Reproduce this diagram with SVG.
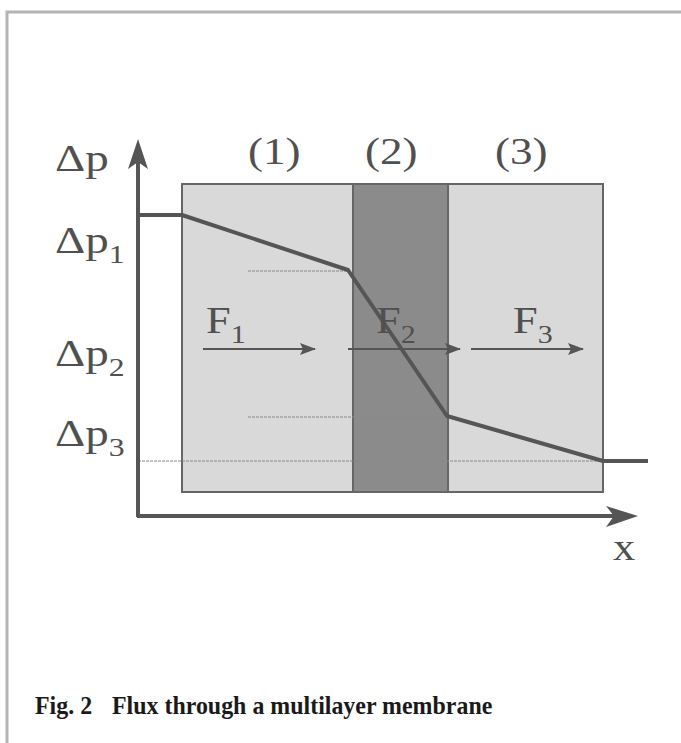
<svg xmlns="http://www.w3.org/2000/svg" width="681" height="743" viewBox="0 0 681 743">
<style>
.lbl{font-family:"Liberation Serif","Times New Roman",serif;fill:#505050;}
.big{font-size:37px;}
.sub{font-size:25px;}
.cap{font-family:"Liberation Serif","Times New Roman",serif;font-weight:bold;font-size:26px;fill:#1a1a1a;}
.layer{stroke:#666;stroke-width:2;}
.dot{stroke:#888;stroke-width:1;stroke-dasharray:3 1;fill:none;}
.flux{stroke:#555;stroke-width:2;fill:none;}
</style>
<defs>
<marker id="fa" viewBox="0 0 16 12" refX="15" refY="6" markerWidth="16" markerHeight="12" markerUnits="userSpaceOnUse" orient="auto">
<path d="M0,0 L16,6 L0,12 L3,6 Z" fill="#555"/>
</marker>
</defs>
<rect x="0" y="0" width="681" height="743" fill="#fff"/>
<g id="frame" fill="none" stroke="#b4b4b4" stroke-width="3">
<path d="M7,743 L7,12 L681,12"/>
</g>
<g id="layer1"><rect class="layer" x="182" y="184" width="171" height="308" fill="#d9d9d9"/></g>
<g id="layer2"><rect class="layer" x="353" y="184" width="95" height="308" fill="#8b8b8b"/></g>
<g id="layer3"><rect class="layer" x="448" y="184" width="155" height="308" fill="#d9d9d9"/></g>
<g id="connectors">
<path class="dot" d="M248,271 H348"/>
<path class="dot" d="M248,417 H446"/>
<path class="dot" d="M138,461 H600"/>
<path class="flux" d="M203,349 H315" marker-end="url(#fa)"/>
<path class="flux" d="M348,349 H460" marker-end="url(#fa)"/>
<path class="flux" d="M471,349 H583" marker-end="url(#fa)"/>
<path d="M138,215 H182 L348,270 L447,416 L603,461 H648" fill="none" stroke="#555" stroke-width="4" stroke-linejoin="round"/>
<path d="M138,517 V160" fill="none" stroke="#555" stroke-width="4"/>
<path d="M137,516 H615" fill="none" stroke="#555" stroke-width="4"/>
<path d="M138,139 L148,169 L138,162 L128,169 Z" fill="#555"/>
<path d="M638,516 L606,506 L614,516 L606,527 Z" fill="#555"/>
</g>
<g id="labels">
<text class="lbl big" transform="translate(55,171) scale(1.27,1)">Δp</text>
<text class="lbl big" transform="translate(55,253) scale(1.27,1)">Δp<tspan class="sub" dy="10">1</tspan></text>
<text class="lbl big" transform="translate(55,366) scale(1.27,1)">Δp<tspan class="sub" dy="10">2</tspan></text>
<text class="lbl big" transform="translate(55,446) scale(1.27,1)">Δp<tspan class="sub" dy="10">3</tspan></text>
<text class="lbl big" transform="translate(248,164) scale(1.22,1)">(1)</text>
<text class="lbl big" transform="translate(365,164) scale(1.22,1)">(2)</text>
<text class="lbl big" transform="translate(495,164) scale(1.22,1)">(3)</text>
<text class="lbl big" transform="translate(206,333) scale(1.2,1)">F<tspan class="sub" dy="10">1</tspan></text>
<text class="lbl big" transform="translate(376,333) scale(1.2,1)">F<tspan class="sub" dy="10">2</tspan></text>
<text class="lbl big" transform="translate(513,333) scale(1.2,1)">F<tspan class="sub" dy="10">3</tspan></text>
<text class="lbl big" transform="translate(613,560) scale(1.2,1)">x</text>
</g>
<g id="caption">
<text class="cap" transform="translate(35,714) scale(0.92,1)">Fig. 2</text>
<text class="cap" transform="translate(112,714) scale(0.92,1)">Flux through a multilayer membrane</text>
</g>
</svg>
